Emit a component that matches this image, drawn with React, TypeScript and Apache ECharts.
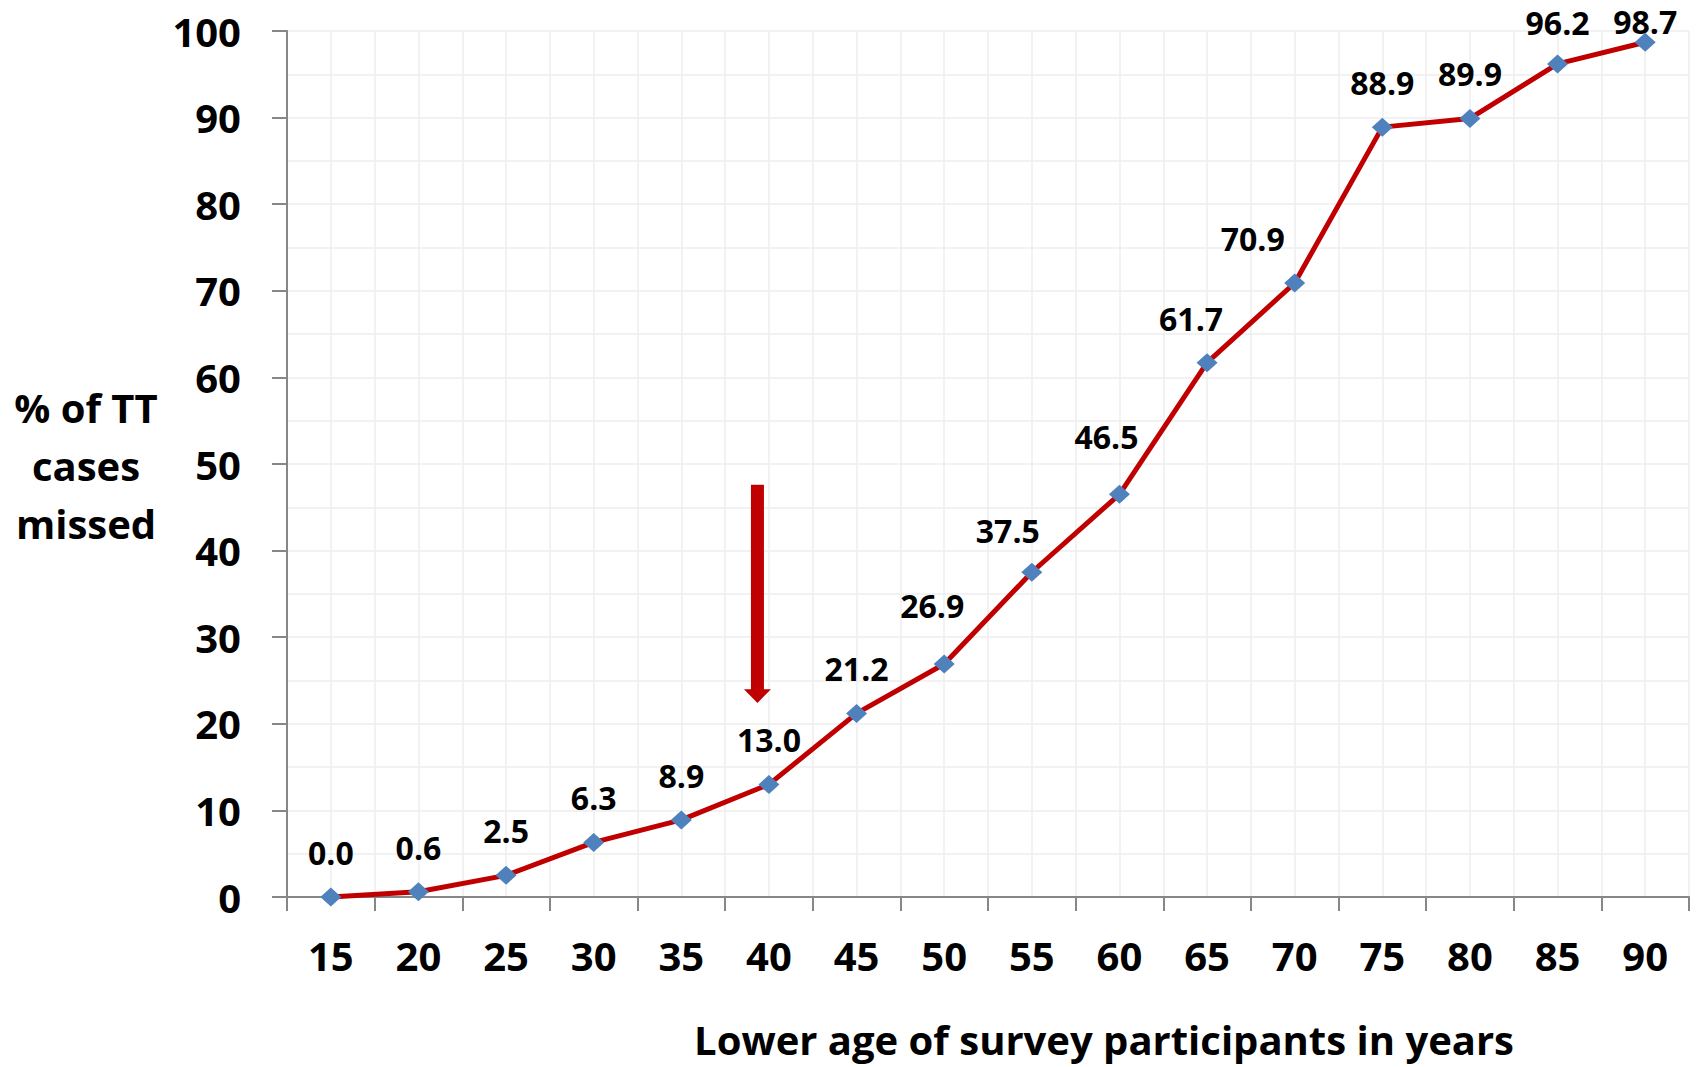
import React, { useEffect, useRef } from "react";
import * as echarts from "echarts";

const ages = ["15", "20", "25", "30", "35", "40", "45", "50", "55", "60", "65", "70", "75", "80", "85", "90"];
const missedPct = [0.0, 0.6, 2.5, 6.3, 8.9, 13.0, 21.2, 26.9, 37.5, 46.5, 61.7, 70.9, 88.9, 89.9, 96.2, 98.7];
const yTitleLines = ["% of TT", "cases", "missed"];
const xTitle = "Lower age of survey participants in years";
const arrowCategory = "40";
const arrowTopValue = 47.6;
const arrowHeadBaseValue = 24.0;
const arrowTipValue = 22.4;

// label placement nudges (styling, keyed by category)
const labelNudge: Record<string, { dx: number; dy: number; distance?: number }> = {
  "50": { dx: -12, dy: -14 },
  "55": { dx: -24, dy: 3 },
  "60": { dx: -13, dy: -13 },
  "65": { dx: -16, dy: 0 },
  "70": { dx: -42, dy: 0 },
  "85": { dx: 0, dy: 3 },
  "90": { dx: 0, dy: 3, distance: -2 },
};

const FONT = "'Open Sans', 'Noto Sans', sans-serif";

export default function App() {
  const ref = useRef<HTMLDivElement>(null);

  useEffect(() => {
    if (!ref.current) return;
    const chart = echarts.init(ref.current, undefined, { renderer: "svg" });

    const seriesData = missedPct.map((v, i) => {
      const n = labelNudge[ages[i]];
      if (!n) return { value: v };
      const label: any = { offset: [n.dx, n.dy] };
      if (n.distance !== undefined) label.distance = n.distance;
      return { value: v, label };
    });

    chart.setOption({
      animation: false,
      backgroundColor: "#ffffff",
      grid: { left: 287, right: 7, top: 31, bottom: 170, containLabel: false },
      xAxis: [
        {
          type: "category",
          data: ages,
          boundaryGap: true,
          position: "bottom",
          axisLine: { show: true, lineStyle: { color: "#878787", width: 2 } },
          axisTick: { show: true, length: 14, lineStyle: { color: "#878787", width: 2 } },
          axisLabel: {
            margin: 38,
            color: "#000",
            fontFamily: FONT,
            fontWeight: "bold",
            fontSize: 40,
          },
          splitLine: { show: false },
          z: 3,
        },
        {
          type: "value",
          position: "top",
          min: 0,
          max: 32,
          interval: 1,
          axisLine: { show: false },
          axisTick: { show: false },
          axisLabel: { show: false },
          splitLine: { show: true, lineStyle: { color: "#EEEEEE", width: 1.5 } },
        },
      ],
      yAxis: {
        type: "value",
        min: 0,
        max: 100,
        interval: 10,
        axisLine: { show: true, lineStyle: { color: "#878787", width: 2 } },
        axisTick: { show: true, length: 15, lineStyle: { color: "#878787", width: 2 } },
        axisLabel: {
          margin: 46,
          color: "#000",
          fontFamily: FONT,
          fontWeight: "bold",
          fontSize: 40,
        },
        splitLine: { show: true, lineStyle: { color: "#EEEEEE", width: 1.5 } },
        minorTick: { show: false, splitNumber: 2 },
        minorSplitLine: { show: true, lineStyle: { color: "#EEEEEE", width: 1.5 } },
        z: 3,
      },
      series: [
        {
          type: "line",
          xAxisIndex: 0,
          data: seriesData,
          lineStyle: { color: "#C00000", width: 5 },
          itemStyle: { color: "#4F81BD" },
          symbol: "diamond",
          symbolSize: [21, 19],
          showAllSymbol: true,
          label: {
            show: true,
            position: "top",
            distance: 19,
            lineHeight: 32,
            color: "#000",
            fontFamily: FONT,
            fontWeight: "bold",
            fontSize: 32,
            formatter: (p: any) => Number(p.value).toFixed(1),
          },
          z: 5,
        },
      ],
    });

    const ax = chart.convertToPixel({ xAxisIndex: 0, yAxisIndex: 0 }, [arrowCategory, arrowTopValue]) as number[];
    const headBase = chart.convertToPixel({ xAxisIndex: 0, yAxisIndex: 0 }, [arrowCategory, arrowHeadBaseValue]) as number[];
    const tip = chart.convertToPixel({ xAxisIndex: 0, yAxisIndex: 0 }, [arrowCategory, arrowTipValue]) as number[];
    const cx = ax[0] - 11.5;
    const sw = 6.5;
    const hw = 13.5;

    chart.setOption({
      graphic: [
        {
          type: "polygon",
          z: 10,
          shape: {
            points: [
              [cx - sw, ax[1]],
              [cx + sw, ax[1]],
              [cx + sw, headBase[1]],
              [cx + hw, headBase[1]],
              [cx, tip[1]],
              [cx - hw, headBase[1]],
              [cx - sw, headBase[1]],
            ],
          },
          style: { fill: "#C00000" },
        },
        {
          type: "text",
          x: 86,
          y: 465,
          style: {
            text: yTitleLines.join("\n"),
            textAlign: "center",
            textVerticalAlign: "middle",
            lineHeight: 58,
            fill: "#000",
            font: `bold 40px ${FONT}`,
          },
        },
        {
          type: "text",
          x: 1104,
          y: 1039,
          style: {
            text: xTitle,
            textAlign: "center",
            textVerticalAlign: "middle",
            fill: "#000",
            font: `bold 40px ${FONT}`,
          },
        },
      ],
    });

    return () => chart.dispose();
  }, []);

  return (
    <div
      ref={ref}
      style={{ position: "fixed", left: 0, top: 0, width: 1696, height: 1067, background: "#fff" }}
    />
  );
}
